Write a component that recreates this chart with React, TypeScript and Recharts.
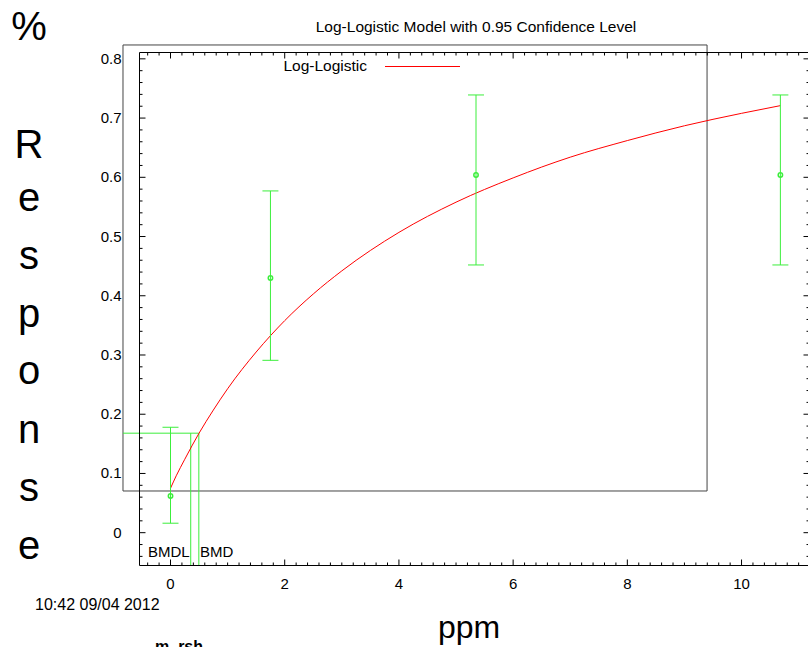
import React from "react";
import {
    ComposedChart,
    ErrorBar,
    Line,
    ReferenceArea,
    ReferenceLine,
    Scatter,
    XAxis,
    YAxis
} from "recharts";

// observed doses with mean response and 95% limits
const doses = [0, 1.75, 5.35, 10.68];
const means = [0.062, 0.43, 0.604, 0.604];
const lowerLimits = [0.016, 0.291, 0.452, 0.452];
const upperLimits = [0.178, 0.577, 0.739, 0.739];

// fitted log-logistic curve
const modelDose = [0, 0.1, 0.25, 0.5, 0.75, 1, 1.5, 2, 2.5, 3, 4, 5, 6, 7, 8, 9, 10, 10.68];
const modelResp = [0.075, 0.096, 0.124, 0.168, 0.207, 0.243, 0.305, 0.358, 0.403, 0.442, 0.507, 0.558, 0.599, 0.634, 0.662, 0.687, 0.708, 0.721];

const bmr = 0.168;
const bmd = 0.496;
const bmdl = 0.354;

const xDomain: [number, number] = [-0.543, 11.19];
const yDomain: [number, number] = [-0.0554, 0.8107];

const xTicks: number[] = [];
for (let i = -2; i <= 55; i++) xTicks.push(Math.round(i * 2) / 10);
const yTicks: number[] = [];
for (let i = -2; i <= 40; i++) yTicks.push(i / 50);

const GREEN = "#3cee3c";
const FONT = "'Liberation Sans', Arial, sans-serif";

const obsData = doses.map((d, i) => ({
    x: d,
    y: means[i],
    err: [means[i] - lowerLimits[i], upperLimits[i] - means[i]],
}));
const modelData = modelDose.map((d, i) => ({x: d, y: modelResp[i]}));

const isMajorX = (v: number) => Math.abs(v / 2 - Math.round(v / 2)) < 1e-6;
const isMajorY = (v: number) => Math.abs(v * 10 - Math.round(v * 10)) < 1e-6;

const BottomTick = (props: any) => {
    const {x, y, payload} = props;
    const major = isMajorX(payload.value);
    return (
        <g>
            <line x1={x} x2={x} y1={y} y2={y - (major ? 6 : 3)} stroke="#000"/>
            {major && (
                <text x={x} y={y + 23} textAnchor="middle" fontSize={15} fill="#000">
                    {Math.round(payload.value)}
                </text>
            )}
        </g>
    );
};

const TopTick = (props: any) => {
    const {x, y, payload} = props;
    const major = isMajorX(payload.value);
    return <line x1={x} x2={x} y1={y} y2={y + (major ? 6 : 3)} stroke="#000"/>;
};

const LeftTick = (props: any) => {
    const {x, y, payload} = props;
    const major = isMajorY(payload.value);
    const v = payload.value;
    return (
        <g>
            <line x1={x} x2={x + (major ? 6 : 3)} y1={y} y2={y} stroke="#000"/>
            {major && (
                <text x={x - 18} y={y + 5} textAnchor="end" fontSize={15} fill="#000">
                    {Math.abs(v) < 1e-6 ? "0" : v.toFixed(1)}
                </text>
            )}
        </g>
    );
};

const RightTick = (props: any) => {
    const {x, y, payload} = props;
    const major = isMajorY(payload.value);
    return <line x1={x} x2={x - (major ? 6 : 3)} y1={y} y2={y} stroke="#000"/>;
};

const sideLetters = ["%", "R", "e", "s", "p", "o", "n", "s", "e"];
const sideBaselines = [40, 158, 211, 269, 327, 384, 443, 501, 559];

const App = () => {
    return (
        <div style={{position: "absolute", left: 0, top: 0, width: 808, height: 647, overflow: "hidden", background: "#fff", fontFamily: FONT}}>
            <ComposedChart
                width={812}
                height={647}
                margin={{top: 51.5, right: 1.5, bottom: 80.5, left: 138.5}}
            >
                <XAxis xAxisId={0} dataKey="x" type="number" domain={xDomain} allowDataOverflow ticks={xTicks}
                       interval={0} tickSize={0} tickMargin={0} height={1} tick={<BottomTick/>}
                       axisLine={{stroke: "#000"}} tickLine={false}/>
                <XAxis xAxisId="top" orientation="top" dataKey="x" type="number" domain={xDomain} allowDataOverflow
                       ticks={xTicks} interval={0} tickSize={0} tickMargin={0} height={1} tick={<TopTick/>}
                       axisLine={{stroke: "#000"}} tickLine={false}/>
                <YAxis yAxisId={0} type="number" domain={yDomain} allowDataOverflow ticks={yTicks} interval={0}
                       tickSize={0} tickMargin={0} width={1} tick={<LeftTick/>} axisLine={{stroke: "#000"}}
                       tickLine={false}/>
                <YAxis yAxisId="right" orientation="right" type="number" domain={yDomain} allowDataOverflow
                       ticks={yTicks} interval={0} tickSize={0} tickMargin={0} width={1} tick={<RightTick/>}
                       axisLine={{stroke: "#000"}} tickLine={false}/>
                {/* gnuplot's key box */}
                <ReferenceArea x1={-0.832} x2={9.396} y1={0.0704} y2={0.8234} ifOverflow="visible"
                               fill="none" stroke="#444" strokeWidth={1}/>
                <ReferenceLine segment={[{x: -0.832, y: bmr}, {x: bmd, y: bmr}]} ifOverflow="visible" stroke={GREEN}/>
                <ReferenceLine segment={[{x: bmdl, y: bmr}, {x: bmdl, y: yDomain[0]}]} ifOverflow="visible" stroke={GREEN}/>
                <ReferenceLine segment={[{x: bmd, y: bmr}, {x: bmd, y: yDomain[0]}]} ifOverflow="visible" stroke={GREEN}/>
                <Line data={modelData} dataKey="y" type="monotone" stroke="#ff0000" strokeWidth={1} dot={false}
                      isAnimationActive={false}/>
                <Scatter data={obsData} dataKey="y" isAnimationActive={false}
                         shape={(p: any) => <circle cx={p.cx} cy={p.cy} r={2.2} fill="none" stroke={GREEN} strokeWidth={1.5}/>}>
                    <ErrorBar dataKey="err" direction="y" width={8} stroke={GREEN} strokeWidth={1}
                              isAnimationActive={false}/>
                </Scatter>
            </ComposedChart>
            <svg width={808} height={660} style={{position: "absolute", left: 0, top: 0, pointerEvents: "none"}}>
                <text x={476} y={32} textAnchor="middle" fontSize={15.5} fill="#000">
                    Log-Logistic Model with 0.95 Confidence Level
                </text>
                <text x={367} y={71} textAnchor="end" fontSize={15.5} fill="#000">Log-Logistic</text>
                <line x1={385} x2={460} y1={66.5} y2={66.5} stroke="#ff0000"/>
                {sideLetters.map((c, i) => (
                    <text key={i} x={29} y={sideBaselines[i]} textAnchor="middle" fontSize={40} fill="#000">{c}</text>
                ))}
                <text x={148} y={557} fontSize={15} fill="#000">BMDL</text>
                <text x={200} y={557} fontSize={15} fill="#000">BMD</text>
                <text x={35} y={610} fontSize={16} fill="#000">10:42 09/04 2012</text>
                <text x={469} y={638} textAnchor="middle" fontSize={32} fill="#000">ppm</text>
                <text x={155} y={652} fontSize={16} fontWeight="bold" fill="#000">m_rsh</text>
            </svg>
        </div>
    );
};

export default App;
